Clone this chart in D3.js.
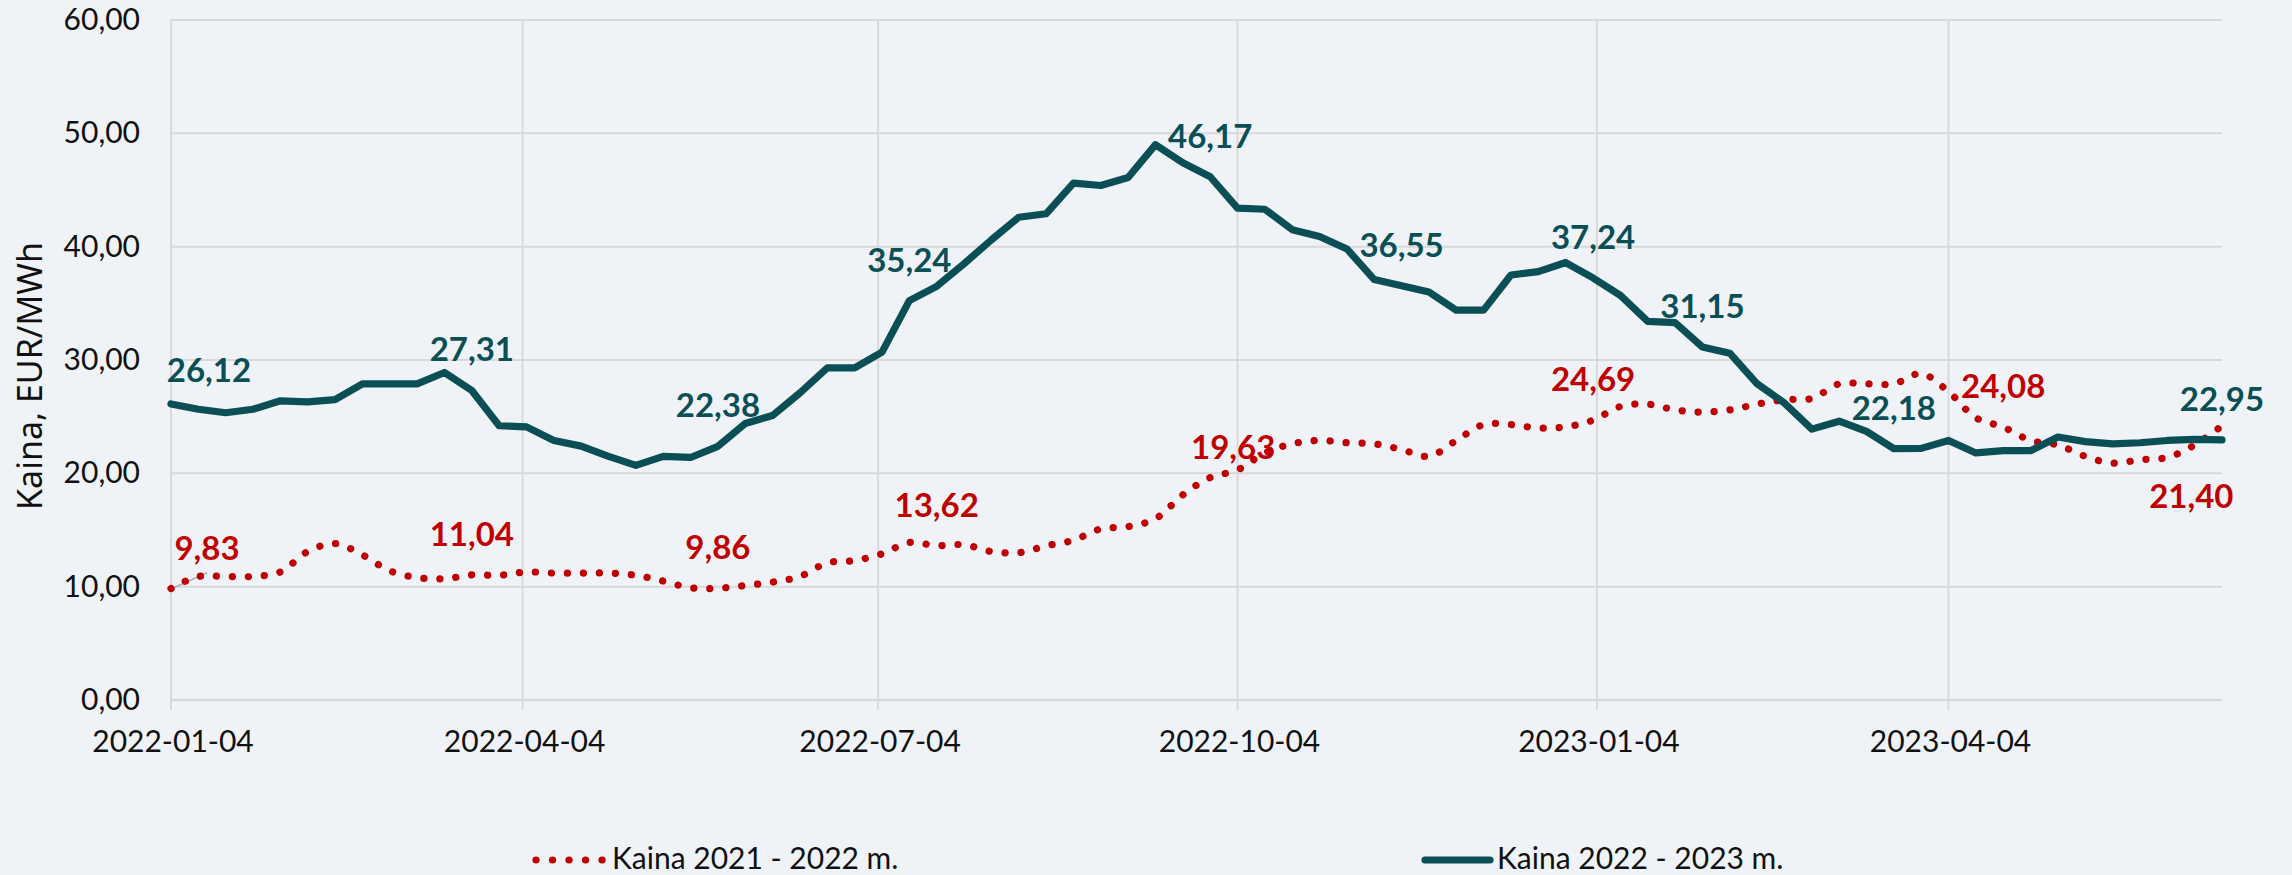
<!DOCTYPE html>
<html>
<head>
<meta charset="utf-8">
<script src="https://cdn.jsdelivr.net/npm/d3@7"></script>
<style>
    html, body { margin: 0; padding: 0; background: #eff3f7; }
    svg { display: block; }
</style>
</head>
<body>
<div id="chart"></div>
<script>
// weekly dates (x axis categories)
var weekDates = [
    "2022-01-04", "2022-01-11", "2022-01-18", "2022-01-25", "2022-02-01", "2022-02-08", "2022-02-15", "2022-02-22",
    "2022-03-01", "2022-03-08", "2022-03-15", "2022-03-22", "2022-03-29", "2022-04-05", "2022-04-12", "2022-04-19",
    "2022-04-26", "2022-05-03", "2022-05-10", "2022-05-17", "2022-05-24", "2022-05-31", "2022-06-07", "2022-06-14",
    "2022-06-21", "2022-06-28", "2022-07-05", "2022-07-12", "2022-07-19", "2022-07-26", "2022-08-02", "2022-08-09",
    "2022-08-16", "2022-08-23", "2022-08-30", "2022-09-06", "2022-09-13", "2022-09-20", "2022-09-27", "2022-10-04",
    "2022-10-11", "2022-10-18", "2022-10-25", "2022-11-01", "2022-11-08", "2022-11-15", "2022-11-22", "2022-11-29",
    "2022-12-06", "2022-12-13", "2022-12-20", "2022-12-27", "2023-01-03", "2023-01-10", "2023-01-17", "2023-01-24",
    "2023-01-31", "2023-02-07", "2023-02-14", "2023-02-21", "2023-02-28", "2023-03-07", "2023-03-14", "2023-03-21",
    "2023-03-28", "2023-04-04", "2023-04-11", "2023-04-18", "2023-04-25", "2023-05-02", "2023-05-09", "2023-05-16",
    "2023-05-23", "2023-05-30", "2023-06-06", "2023-06-13"
];

// Kaina 2022 - 2023 m.
var price2223 = [
    26.12, 25.65, 25.35, 25.65, 26.40, 26.30, 26.50, 27.90, 27.90, 27.90, 28.90, 27.31, 24.20, 24.10, 22.90, 22.40,
    21.50, 20.70, 21.50, 21.40, 22.38, 24.40, 25.10, 27.10, 29.30, 29.30, 30.70, 35.24, 36.50, 38.50, 40.60, 42.60,
    42.90, 45.60, 45.40, 46.10, 49.00, 47.40, 46.17, 43.40, 43.30, 41.50, 40.90, 39.80, 37.10, 36.55, 36.00, 34.40,
    34.40, 37.50, 37.80, 38.60, 37.24, 35.70, 33.40, 33.30, 31.15, 30.60, 27.90, 26.20, 23.90, 24.60, 23.70, 22.18,
    22.20, 22.90, 21.80, 22.00, 22.00, 23.20, 22.80, 22.60, 22.70, 22.90, 23.00, 22.95
];

// Kaina 2021 - 2022 m.
var price2122 = [
    9.83, 10.90, 10.90, 10.90, 11.30, 13.10, 13.80, 12.80, 11.40, 10.80, 10.70, 11.04, 11.00, 11.30, 11.20, 11.20,
    11.20, 11.00, 10.50, 9.90, 9.86, 10.10, 10.40, 10.90, 12.10, 12.30, 12.90, 13.90, 13.62, 13.70, 13.10, 13.00,
    13.60, 14.10, 15.10, 15.30, 16.00, 18.10, 19.63, 20.30, 21.80, 22.60, 22.90, 22.70, 22.60, 22.10, 21.50, 22.90,
    24.30, 24.30, 24.00, 24.10, 24.69, 25.90, 26.10, 25.60, 25.40, 25.60, 26.10, 26.50, 26.60, 27.90, 27.90, 27.90,
    28.80, 27.20, 24.90, 24.08, 22.90, 22.50, 21.50, 20.90, 21.20, 21.40, 22.50, 24.20
];

// which points carry a data label
var labels2223 = [0, 11, 20, 27, 38, 45, 52, 56, 63, 75];
var labels2122 = [0, 11, 20, 28, 38, 52, 67, 73];

var xTickDates = ["2022-01-04", "2022-04-04", "2022-07-04", "2022-10-04", "2023-01-04", "2023-04-04"];
var yTicks = [0, 10, 20, 30, 40, 50, 60];

var seriesNames = ["Kaina 2021 - 2022 m.", "Kaina 2022 - 2023 m."];

var TEAL = "#0a4f55",
    RED = "#c00000",
    GRID = "#d9d9d9",
    FONT = "Lato, 'Noto Sans', sans-serif";

var W = 2292, H = 875;
var margin = { top: 20, right: 70, bottom: 175, left: 171 };

var parseDate = d3.timeParse("%Y-%m-%d");
var fmtNum = function(v) { return d3.format(".2f")(v).replace(".", ","); };

var svg = d3.select("#chart")
    .append("svg")
    .attr("width", W)
    .attr("height", H);

svg.append("rect")
    .attr("width", W)
    .attr("height", H)
    .attr("fill", "#eff3f7");

var x = d3.scaleTime()
    .domain([parseDate(weekDates[0]), parseDate(weekDates[weekDates.length - 1])])
    .range([margin.left, W - margin.right]);

var y = d3.scaleLinear()
    .domain([0, 60])
    .range([H - margin.bottom, margin.top]);

var g = svg.append("g");

// horizontal gridlines
g.append("g")
    .selectAll("line")
    .data(yTicks)
    .enter().append("line")
    .attr("x1", x.range()[0])
    .attr("x2", x.range()[1])
    .attr("y1", function(d) { return y(d); })
    .attr("y2", function(d) { return y(d); })
    .attr("stroke", GRID)
    .attr("stroke-width", function(d) { return d === 0 ? 2.5 : 2; });

// vertical gridlines + tick marks
g.append("g")
    .selectAll("line")
    .data(xTickDates)
    .enter().append("line")
    .attr("x1", function(d) { return x(parseDate(d)); })
    .attr("x2", function(d) { return x(parseDate(d)); })
    .attr("y1", y(60))
    .attr("y2", y(0) + 10)
    .attr("stroke", GRID)
    .attr("stroke-width", 2);

// y tick labels
g.append("g")
    .selectAll("text")
    .data(yTicks)
    .enter().append("text")
    .attr("x", 140)
    .attr("y", function(d) { return y(d) + 10; })
    .attr("text-anchor", "end")
    .attr("font-family", FONT)
    .attr("font-size", 30)
    .attr("fill", "#111")
    .text(function(d) { return fmtNum(d); });

// x tick labels
g.append("g")
    .selectAll("text")
    .data(xTickDates)
    .enter().append("text")
    .attr("x", function(d) { return x(parseDate(d)) + 2; })
    .attr("y", 752)
    .attr("text-anchor", "middle")
    .attr("font-family", FONT)
    .attr("font-size", 30)
    .attr("fill", "#111")
    .text(function(d) { return d; });

// y axis title
svg.append("text")
    .attr("transform", "translate(42," + (y(30) + 16) + ") rotate(-90)")
    .attr("text-anchor", "middle")
    .attr("font-family", "'Noto Sans', sans-serif")
    .attr("font-size", 34)
    .attr("fill", "#111")
    .text("Kaina, EUR/MWh");

var lineTeal = d3.line()
    .x(function(d, i) { return x(parseDate(weekDates[i])); })
    .y(function(d) { return y(d); });

var lineRed = d3.line()
    .curve(d3.curveCatmullRom)
    .x(function(d, i) { return x(parseDate(weekDates[i])); })
    .y(function(d) { return y(d); });

// leader line of the first red label
svg.append("line")
    .attr("x1", x(parseDate(weekDates[0])) + 1)
    .attr("y1", y(price2122[0]))
    .attr("x2", x(parseDate(weekDates[0])) + 36)
    .attr("y2", y(price2122[0]) - 16)
    .attr("stroke", "#a6a6a6")
    .attr("stroke-width", 1.5);

svg.append("path")
    .datum(price2122)
    .attr("d", lineRed)
    .attr("fill", "none")
    .attr("stroke", RED)
    .attr("stroke-width", 7.2)
    .attr("stroke-linecap", "round")
    .attr("stroke-dasharray", "0.1 15.9");

svg.append("path")
    .datum(price2223)
    .attr("d", lineTeal)
    .attr("fill", "none")
    .attr("stroke", TEAL)
    .attr("stroke-width", 7.2)
    .attr("stroke-linejoin", "round")
    .attr("stroke-linecap", "round");

// label nudges (px) where the label is not simply centred above its point
var nudge2223 = { 0: [38, 7] };
var nudge2122 = { 0: [36, 0], 38: [23, 10], 73: [24, 80] };

function drawLabels(idx, values, color, nudge) {
    svg.append("g")
        .selectAll("text")
        .data(idx)
        .enter().append("text")
        .attr("x", function(i) { return x(parseDate(weekDates[i])) + (nudge[i] ? nudge[i][0] : 0); })
        .attr("y", function(i) { return y(values[i]) - 29 + (nudge[i] ? nudge[i][1] : 0); })
        .attr("text-anchor", "middle")
        .attr("font-family", FONT)
        .attr("font-weight", "bold")
        .attr("font-size", 33)
        .attr("fill", color)
        .text(function(i) { return fmtNum(values[i]); });
}

drawLabels(labels2122, price2122, RED, nudge2122);
drawLabels(labels2223, price2223, TEAL, nudge2223);

// legend
var legend = svg.append("g");

legend.append("line")
    .attr("x1", 536).attr("x2", 603)
    .attr("y1", 860).attr("y2", 860)
    .attr("stroke", RED)
    .attr("stroke-width", 7.2)
    .attr("stroke-linecap", "round")
    .attr("stroke-dasharray", "0.1 16.4");

legend.append("text")
    .attr("x", 612).attr("y", 869)
    .attr("font-family", FONT)
    .attr("font-size", 30)
    .attr("fill", "#111")
    .text(seriesNames[0]);

legend.append("line")
    .attr("x1", 1425).attr("x2", 1490)
    .attr("y1", 860).attr("y2", 860)
    .attr("stroke", TEAL)
    .attr("stroke-width", 7.2)
    .attr("stroke-linecap", "round");

legend.append("text")
    .attr("x", 1497).attr("y", 869)
    .attr("font-family", FONT)
    .attr("font-size", 30)
    .attr("fill", "#111")
    .text(seriesNames[1]);
</script>
</body>
</html>
